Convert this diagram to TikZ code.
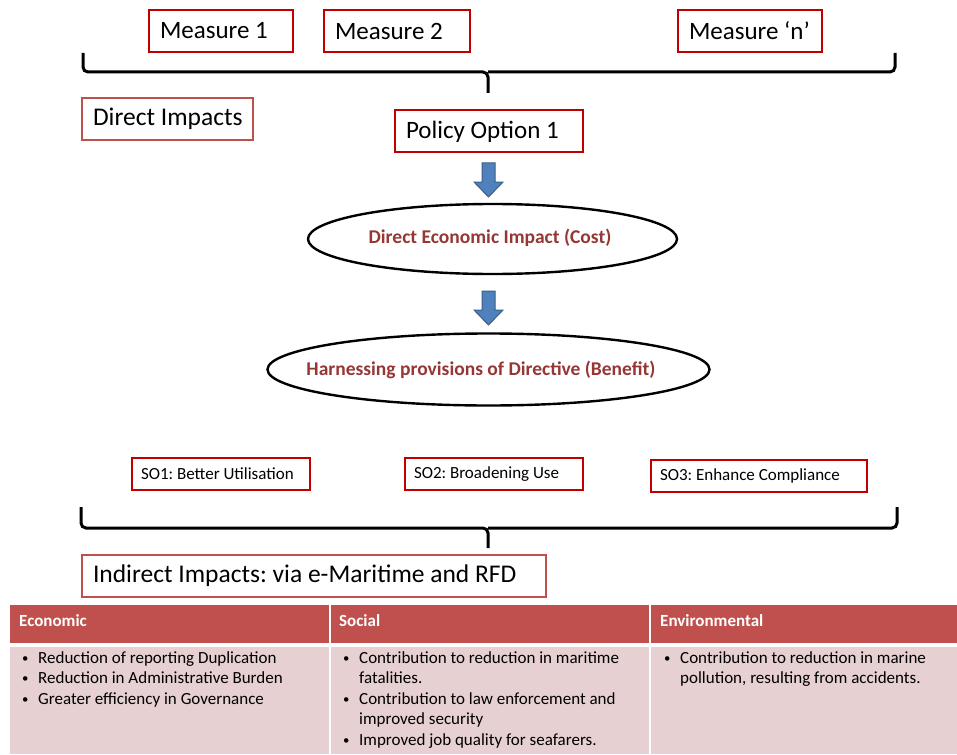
\documentclass[tikz,border=0pt]{standalone}
\usepackage{fontspec}
\setmainfont{Carlito}
\usetikzlibrary{shapes.geometric,calc}
\frenchspacing

\definecolor{boxred}{RGB}{192,0,0}
\definecolor{softred}{RGB}{192,80,77}
\definecolor{ovaltext}{RGB}{149,55,53}
\definecolor{arrowfill}{RGB}{79,129,189}
\definecolor{arrowedge}{RGB}{56,93,138}
\definecolor{rowpink}{RGB}{231,208,209}

\tikzset{
  measurebox/.style={draw=boxred, line width=2pt, inner xsep=11pt, inner ysep=0pt,
    minimum height=42pt, anchor=west, font=\fontsize{25}{28}\selectfont},
  labelbox/.style={draw=softred, line width=2pt, inner xsep=11pt, inner ysep=0pt,
    minimum height=42pt, anchor=west, font=\fontsize{25.5}{28}\selectfont},
  sobox/.style={draw=boxred, line width=2pt, inner xsep=9pt, inner ysep=0pt,
    minimum height=32pt, anchor=west, font=\fontsize{17}{20}\selectfont},
  ovaltxt/.style={inner sep=0pt, text=ovaltext, font=\bfseries\fontsize{19.5}{22}\selectfont},
  ovalline/.style={draw=black, line width=2.4pt},
  brace/.style={line width=3pt, rounded corners=5pt},
  downarrow/.style={fill=arrowfill, draw=arrowedge, line width=1pt},
  headcell/.style={anchor=west, inner sep=0pt, text=white, font=\bfseries\fontsize{17}{20}\selectfont},
  bodycell/.style={anchor=north west, inner sep=0pt, align=left,
    font=\fontsize{17}{20.5}\selectfont},
}

% left-set label of fixed width inside a box
\newcommand{\fixw}[2]{\makebox[#1][l]{#2}}
\newcommand{\blt}{\makebox[16pt][l]{\raisebox{1pt}{\scalebox{0.75}{\textbullet}}}}

\begin{document}
\begin{tikzpicture}[x=1pt, y=-1pt]
  \useasboundingbox (0,0) rectangle (957,754);

  % measures of the policy option
  \node[measurebox] (m1) at (148,31) {\fixw{122pt}{Measure 1}};
  \node[measurebox] (m2) at (323,31) {\fixw{124pt}{Measure 2}};
  \node[measurebox] (mn) at (677,31) {\fixw{122pt}{Measure ‘n’}};

  % upper brace gathering the measures
  \coordinate (tb) at (488,93);
  \draw[brace] (83,53) -- (83,72) -- (488,72) -- (tb);
  \draw[brace] (488,72) -- (895,72) -- (895,53);

  \node[labelbox] (direct) at (81,119) {\fixw{149pt}{Direct Impacts}};
  \node[measurebox] (policy) at (394,131.5) {\fixw{166pt}{Policy Option 1}};

  % cost and benefit ovals
  \node[ovaltxt] (cost) at (490,238) {Direct Economic Impact (Cost)};
  \draw[ovalline] (492.5,239) ellipse [x radius=184.5pt, y radius=35pt];
  \node[ovaltxt] (benefit) at (481,370) {Harnessing provisions of Directive (Benefit)};
  \draw[ovalline] (488.5,369.5) ellipse [x radius=221pt, y radius=36pt];

  % block arrows between the stages
  \foreach \top/\neck/\tip in {163/182/197, 291/310/325} {
    \draw[downarrow] (482,\top) -- (495,\top) -- (495,\neck) -- (503,\neck)
      -- (488.5,\tip) -- (474,\neck) -- (482,\neck) -- cycle;
  }

  % specific objectives
  \node[sobox] (so1) at (131,474) {\fixw{160pt}{SO1: Better Utilisation}};
  \node[sobox] (so2) at (404,474) {\fixw{160pt}{SO2: Broadening Use}};
  \node[sobox] (so3) at (650,476) {\fixw{198pt}{SO3: Enhance Compliance}};

  % lower brace gathering the objectives
  \coordinate (bb) at (488,548);
  \draw[brace] (81,507) -- (81,528) -- (488,528) -- (bb);
  \draw[brace] (488,528) -- (897,528) -- (897,507);

  \node[labelbox] (indirect) at (81,576) {\fixw{442pt}{Indirect Impacts: via e-Maritime and RFD}};

  % impact table
  \fill[softred] (10,605) rectangle (957,643);
  \fill[rowpink] (10,647) rectangle (957,754);
  \draw[white, line width=2pt] (330,605) -- (330,754);
  \draw[white, line width=2pt] (650,605) -- (650,754);

  \node[headcell] (hecon) at (19,621) {Economic};
  \node[headcell] (hsoc) at (339,621) {Social};
  \node[headcell] (henv) at (660,621) {Environmental};

  \node[bodycell] (becon) at (22,651) {%
    \blt Reduction of reporting Duplication\\
    \blt Reduction in Administrative Burden\\
    \blt Greater efficiency in Governance};
  \node[bodycell] (bsoc) at (343,651) {%
    \blt Contribution to reduction in maritime\\
    \hspace*{16pt}fatalities.\\
    \blt Contribution to law enforcement and\\
    \hspace*{16pt}improved security\\
    \blt Improved job quality for seafarers.};
  \node[bodycell] (benv) at (664,651) {%
    \blt Contribution to reduction in marine\\
    \hspace*{16pt}pollution, resulting from accidents.};
\end{tikzpicture}
\end{document}
